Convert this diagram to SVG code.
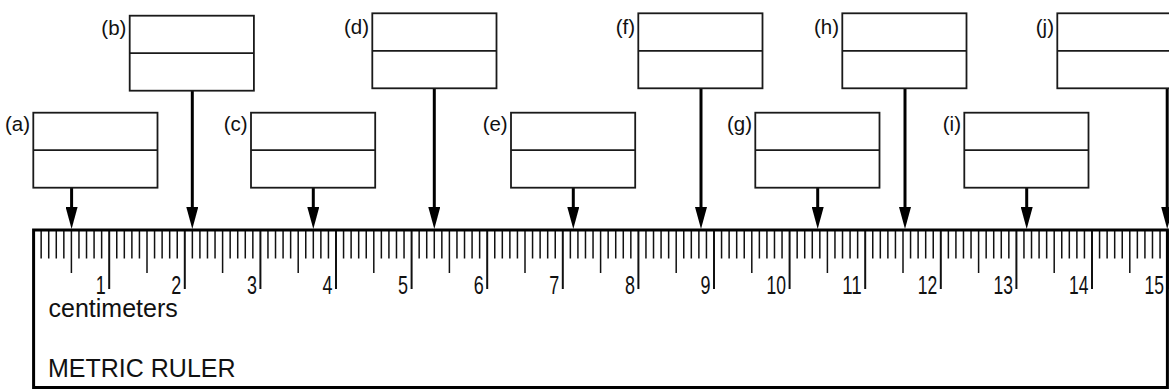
<svg xmlns="http://www.w3.org/2000/svg" xmlns:xlink="http://www.w3.org/1999/xlink" width="1169" height="391" viewBox="0 0 1169 391">
<style>
.box{fill:#fff;stroke:#1a1a1a;stroke-width:1.8}
.div{stroke:#1a1a1a;stroke-width:1.8}
.lbl{font-family:"Liberation Sans",Arial,sans-serif;font-size:20.5px;fill:#111;text-anchor:end}
.conn{stroke:#000;stroke-width:3;fill:none}
.num{font-family:"Liberation Sans",Arial,sans-serif;font-size:26px;fill:#111;text-anchor:end}
.cap{font-family:"Liberation Sans",Arial,sans-serif;font-size:25px;fill:#111}
.mm{stroke:#111;stroke-width:1.5;fill:none}
.cm{stroke:#111;stroke-width:2;fill:none}
</style>
<defs>
<marker id="ah" markerWidth="22" markerHeight="12" refX="0" refY="6" orient="auto" markerUnits="userSpaceOnUse" viewBox="0 0 22 12">
<path d="M0 0L22 6L0 12Z" fill="#000"/>
</marker>
<g id="unit">
<path class="mm" d="M7.56 230V258.5M15.12 230V258.5M22.68 230V258.5M30.24 230V258.5M45.36 230V258.5M52.92 230V258.5M60.48 230V258.5M68.04 230V258.5M37.8 230V273"/>
<path class="cm" d="M75.6 230V289"/>
</g>
</defs>
<rect width="1169" height="391" fill="#fff"/>

<g id="ruler">
<rect x="33.6" y="230" width="1134" height="157.5" fill="#fff" stroke="none"/>
<use xlink:href="#unit" x="33.6"/>
<use xlink:href="#unit" x="109.2"/>
<use xlink:href="#unit" x="184.8"/>
<use xlink:href="#unit" x="260.4"/>
<use xlink:href="#unit" x="336"/>
<use xlink:href="#unit" x="411.6"/>
<use xlink:href="#unit" x="487.2"/>
<use xlink:href="#unit" x="562.8"/>
<use xlink:href="#unit" x="638.4"/>
<use xlink:href="#unit" x="714"/>
<use xlink:href="#unit" x="789.6"/>
<use xlink:href="#unit" x="865.2"/>
<use xlink:href="#unit" x="940.8"/>
<use xlink:href="#unit" x="1016.4"/>
<use xlink:href="#unit" x="1092"/>
<path d="M33.6 387.5V230H1167.4V387.5H33.6Z" fill="none" stroke="#000" stroke-width="3"/>
<text class="num" x="105.7" y="294" textLength="10" lengthAdjust="spacingAndGlyphs">1</text>
<text class="num" x="181.3" y="294" textLength="10" lengthAdjust="spacingAndGlyphs">2</text>
<text class="num" x="256.9" y="294" textLength="10" lengthAdjust="spacingAndGlyphs">3</text>
<text class="num" x="332.5" y="294" textLength="10" lengthAdjust="spacingAndGlyphs">4</text>
<text class="num" x="408.1" y="294" textLength="10" lengthAdjust="spacingAndGlyphs">5</text>
<text class="num" x="483.7" y="294" textLength="10" lengthAdjust="spacingAndGlyphs">6</text>
<text class="num" x="559.3" y="294" textLength="10" lengthAdjust="spacingAndGlyphs">7</text>
<text class="num" x="634.9" y="294" textLength="10" lengthAdjust="spacingAndGlyphs">8</text>
<text class="num" x="710.5" y="294" textLength="10" lengthAdjust="spacingAndGlyphs">9</text>
<text class="num" x="786.1" y="294" textLength="19.5" lengthAdjust="spacingAndGlyphs">10</text>
<text class="num" x="861.7" y="294" textLength="19.5" lengthAdjust="spacingAndGlyphs">11</text>
<text class="num" x="937.3" y="294" textLength="19.5" lengthAdjust="spacingAndGlyphs">12</text>
<text class="num" x="1012.9" y="294" textLength="19.5" lengthAdjust="spacingAndGlyphs">13</text>
<text class="num" x="1088.5" y="294" textLength="19.5" lengthAdjust="spacingAndGlyphs">14</text>
<text class="num" x="1164.1" y="294" textLength="19.5" lengthAdjust="spacingAndGlyphs">15</text>
<text class="cap" x="48.5" y="316.7">centimeters</text>
<text class="cap" x="48" y="377.3">METRIC RULER</text>
</g>

<g id="connectors">
<path class="conn" marker-end="url(#ah)" d="M71.6 187.7V207"/>
<path class="conn" marker-end="url(#ah)" d="M192.3 90.7V207"/>
<path class="conn" marker-end="url(#ah)" d="M313.3 187.7V207"/>
<path class="conn" marker-end="url(#ah)" d="M434.3 88.3V207"/>
<path class="conn" marker-end="url(#ah)" d="M573.3 187.7V207"/>
<path class="conn" marker-end="url(#ah)" d="M701 88.3V207"/>
<path class="conn" marker-end="url(#ah)" d="M817.7 187.7V207"/>
<path class="conn" marker-end="url(#ah)" d="M905 88.3V207"/>
<path class="conn" marker-end="url(#ah)" d="M1026.7 187.7V207"/>
<path class="conn" marker-end="url(#ah)" d="M1167.2 88.3V207"/>
</g>

<g id="node-a"><rect class="box" x="33.3" y="112.7" width="124.2" height="75"/><path class="div" d="M33.3 150.2H157.5"/><text class="lbl" x="30" y="131">(a)</text></g>
<g id="node-b"><rect class="box" x="129.7" y="15.7" width="124.2" height="75"/><path class="div" d="M129.7 53.2H253.9"/><text class="lbl" x="126.4" y="35">(b)</text></g>
<g id="node-c"><rect class="box" x="251" y="112.7" width="124.2" height="75"/><path class="div" d="M251 150.2H375.2"/><text class="lbl" x="247.7" y="131">(c)</text></g>
<g id="node-d"><rect class="box" x="372.3" y="13.3" width="124.2" height="75"/><path class="div" d="M372.3 50.8H496.5"/><text class="lbl" x="369" y="34">(d)</text></g>
<g id="node-e"><rect class="box" x="511" y="112.7" width="124.2" height="75"/><path class="div" d="M511 150.2H635.2"/><text class="lbl" x="507.7" y="131">(e)</text></g>
<g id="node-f"><rect class="box" x="638.3" y="13.3" width="124.2" height="75"/><path class="div" d="M638.3 50.8H762.5"/><text class="lbl" x="635" y="34">(f)</text></g>
<g id="node-g"><rect class="box" x="755.3" y="112.7" width="124.2" height="75"/><path class="div" d="M755.3 150.2H879.5"/><text class="lbl" x="752" y="131">(g)</text></g>
<g id="node-h"><rect class="box" x="842.3" y="13.3" width="124.2" height="75"/><path class="div" d="M842.3 50.8H966.5"/><text class="lbl" x="839" y="34">(h)</text></g>
<g id="node-i"><rect class="box" x="964.3" y="112.7" width="124.2" height="75"/><path class="div" d="M964.3 150.2H1088.5"/><text class="lbl" x="961" y="131">(i)</text></g>
<g id="node-j"><rect class="box" x="1057.3" y="13.3" width="124.2" height="75"/><path class="div" d="M1057.3 50.8H1181.5"/><text class="lbl" x="1054" y="34">(j)</text></g>
</svg>
